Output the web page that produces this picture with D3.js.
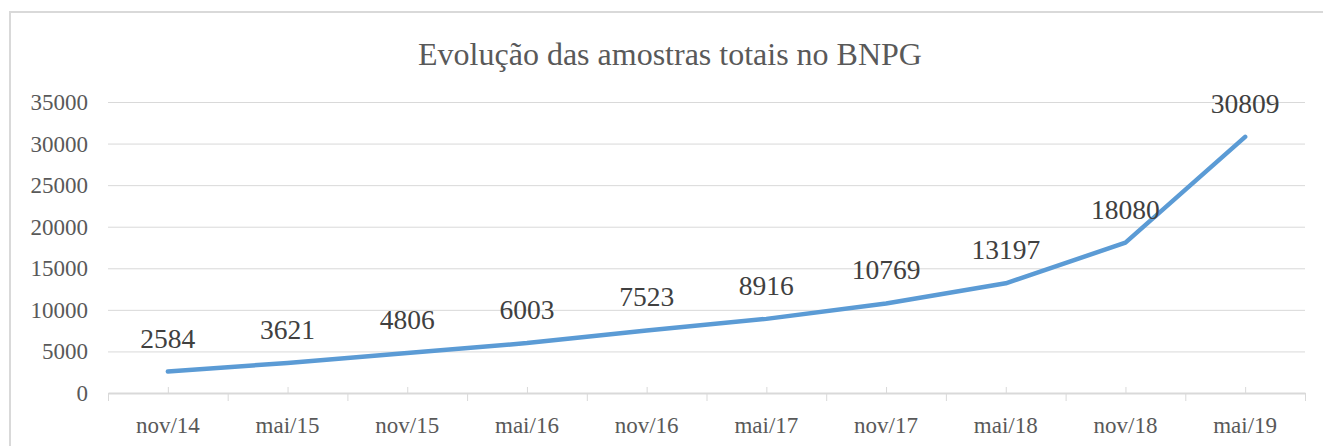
<!DOCTYPE html>
<html>
<head>
<meta charset="utf-8">
<script src="https://cdn.jsdelivr.net/npm/d3@7"></script>
<style>
  body { margin: 0; background: #fff; }
  text { font-family: "Liberation Serif", "Times New Roman", serif; }
</style>
</head>
<body>
<div class="chart"></div>
<script>
// data
var categories = ["nov/14", "mai/15", "nov/15", "mai/16", "nov/16", "mai/17", "nov/17", "mai/18", "nov/18", "mai/19"];
var amostras = [2584, 3621, 4806, 6003, 7523, 8916, 10769, 13197, 18080, 30809];
var yTicks = [0, 5000, 10000, 15000, 20000, 25000, 30000, 35000];
var chartTitle = "Evolução das amostras totais no BNPG";

var svgWidth = 1323;
var svgHeight = 446;

var chartMargin = { top: 102, right: 18, bottom: 53, left: 108 };
var width = svgWidth - chartMargin.left - chartMargin.right;
var height = svgHeight - chartMargin.top - chartMargin.bottom;

var svg = d3.select(".chart")
  .append("svg")
  .attr("width", svgWidth)
  .attr("height", svgHeight);

// outer frame (right/bottom edges fall outside the picture)
svg.append("rect")
  .attr("x", 10).attr("y", 12)
  .attr("width", svgWidth + 20).attr("height", svgHeight + 20)
  .attr("fill", "none")
  .attr("stroke", "#d9d9d9")
  .attr("stroke-width", 2);

svg.append("text")
  .attr("x", 670)
  .attr("y", 65)
  .attr("text-anchor", "middle")
  .attr("font-size", 32)
  .attr("fill", "#595959")
  .text(chartTitle);

var chart = svg.append("g")
  .attr("transform", "translate(" + chartMargin.left + "," + chartMargin.top + ")");

var xBand = d3.scaleBand().domain(categories).range([0, width]);
var yLinearScale = d3.scaleLinear().domain([0, 35000]).range([height, 0]);

// gridlines
chart.append("g")
  .selectAll("line")
  .data(yTicks.filter(function(d) { return d > 0; }))
  .enter().append("line")
  .attr("x1", 0).attr("x2", width)
  .attr("y1", function(d) { return yLinearScale(d) + 0.5; })
  .attr("y2", function(d) { return yLinearScale(d) + 0.5; })
  .attr("stroke", "#d9d9d9")
  .attr("stroke-width", 1);

// y labels
chart.append("g")
  .selectAll("text")
  .data(yTicks)
  .enter().append("text")
  .attr("x", -20)
  .attr("y", function(d) { return yLinearScale(d); })
  .attr("dy", "0.35em")
  .attr("text-anchor", "end")
  .attr("font-size", 23)
  .attr("fill", "#595959")
  .text(function(d) { return d; });

// x axis
var bottomAxis = d3.axisBottom(xBand).tickSize(0).tickPadding(24);
var xg = chart.append("g")
  .attr("transform", "translate(0," + height + ")")
  .call(bottomAxis);
xg.select(".domain").attr("stroke", "#d9d9d9").attr("stroke-width", 2);
xg.selectAll("text")
  .attr("font-family", "Liberation Serif, Times New Roman, serif")
  .attr("font-size", 23)
  .attr("fill", "#595959");

// boundary ticks (below) and center ticks (above)
var bounds = categories.map(function(c) { return xBand(c); }).concat([width]);
chart.append("g").selectAll("line")
  .data(bounds)
  .enter().append("line")
  .attr("x1", function(d) { return d + 0.5; })
  .attr("x2", function(d) { return d + 0.5; })
  .attr("y1", height).attr("y2", height + 8)
  .attr("stroke", "#d9d9d9");
chart.append("g").selectAll("line")
  .data(categories)
  .enter().append("line")
  .attr("x1", function(d) { return xBand(d) + xBand.bandwidth() / 2 + 0.5; })
  .attr("x2", function(d) { return xBand(d) + xBand.bandwidth() / 2 + 0.5; })
  .attr("y1", height - 6).attr("y2", height)
  .attr("stroke", "#d9d9d9");

var line = d3.line()
  .x(function(d, i) { return xBand(categories[i]) + xBand.bandwidth() / 2; })
  .y(function(d) { return yLinearScale(d); });

chart.append("path")
  .datum(amostras)
  .attr("d", line)
  .attr("fill", "none")
  .attr("stroke", "#5b9bd5")
  .attr("stroke-width", 4.5)
  .attr("stroke-linecap", "round")
  .attr("stroke-linejoin", "round");

// data labels
chart.append("g")
  .selectAll("text")
  .data(amostras)
  .enter().append("text")
  .attr("x", function(d, i) { return xBand(categories[i]) + xBand.bandwidth() / 2; })
  .attr("y", function(d) { return yLinearScale(d) - 24; })
  .attr("text-anchor", "middle")
  .attr("font-size", 27.5)
  .attr("fill", "#404040")
  .text(function(d) { return d; });
</script>
</body>
</html>
